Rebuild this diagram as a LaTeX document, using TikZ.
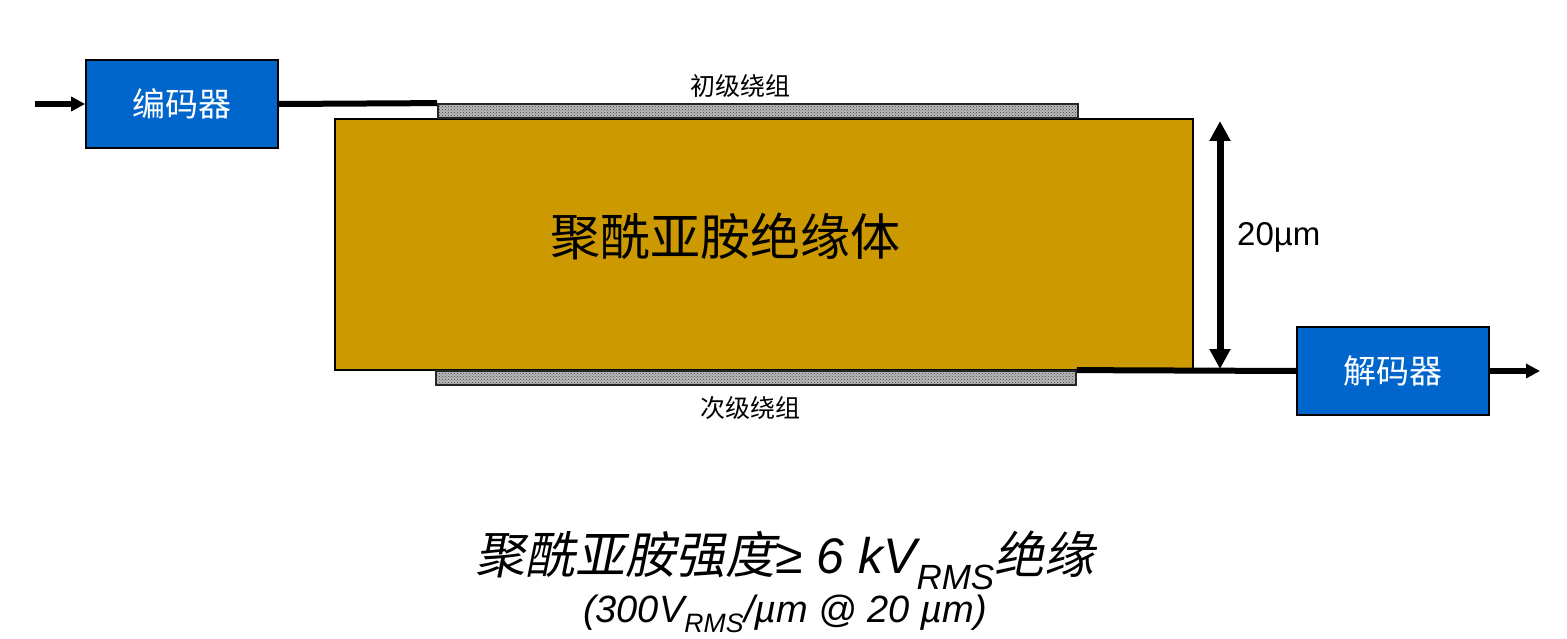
\documentclass[tikz,border=0pt]{standalone}
\usepackage{fontspec}
\setmainfont{Liberation Sans}
\newfontfamily\cjk{Noto Sans CJK SC}
\newfontfamily\cjkit[FakeSlant=0.2]{Noto Sans CJK SC}
\usepackage{tikz}
\usetikzlibrary{arrows.meta,% Triangle tips
patterns}
\definecolor{blockblue}{HTML}{0066CC}
\definecolor{polygold}{HTML}{CC9900}
\newcommand{\fs}[1]{\fontsize{#1}{1.2\dimexpr#1pt\relax}\selectfont}

\begin{document}
\begin{tikzpicture}[x=1pt,y=-1pt,
  every node/.style={inner sep=0pt},
  block/.style={draw=black, line width=1.8pt, fill=blockblue, text=white,
    minimum width=192pt, minimum height=88pt, font=\cjk\fs{33}},
  winding/.style={draw=black!85, line width=1.8pt, preaction={fill=gray!55},
    pattern=crosshatch dots, pattern color=gray!50!black,
    minimum width=640pt, minimum height=14pt},
  wire/.style={line width=6pt},
% the tips are filled triangles, a bit wider than long
  tip/.style={-{Triangle[length=14pt,width=14pt]}}
]
\useasboundingbox (0,0) rectangle (1567,639);

\path (182,104) node[block] (enc) {编码器};
\path (1393,371) node[block] (dec) {解码器};

\path (764,244.5) node[draw=black, line width=2pt, fill=polygold,
  minimum width=858pt, minimum height=251pt] (core) {};
\path (core.center) ++ (-39,-8) node[font=\cjk\fs{50}] (corelbl) {聚酰亚胺绝缘体};

\path (758,111) node[winding] (pri) {};
\path (756,378) node[winding] (sec) {};
\path (pri.north) ++ (-18,-17) node[font=\cjk\fs{25}] (prilbl) {初级绕组};
\path (sec.south) ++ (-6,22) node[font=\cjk\fs{25}] (seclbl) {次级绕组};

% signal path
\coordinate (in) at (35,104);
\coordinate (out) at (1540,371);
\draw[wire,tip] (in) -- (enc.west);
\draw[wire] (enc.east) -- (pri.north west);
\draw[wire] (sec.north east) -- (dec.west);
\draw[wire,tip] (dec.east) -- (out);

% thickness of the insulation
\coordinate (dimtop) at (1220,121);
\coordinate (dimbot) at (1220,369);
\draw[line width=7pt,{Triangle[length=20pt,width=20pt]}-{Triangle[length=20pt,width=20pt]}]
  (dimtop) -- (dimbot);
\path (1237,237) node[right, font=\fs{33}] (dimlbl) {20µm};

\path (785,560) node[font=\itshape\fs{50}] (rating)
  {{\cjkit 聚酰亚胺强度}≥ 6 kV\textsubscript{RMS}{\cjkit 绝缘}};
\path (785,614) node[font=\itshape\fs{38}] (ratio)
  {(300V\textsubscript{RMS}/µm @ 20 µm)};
\end{tikzpicture}
\end{document}
